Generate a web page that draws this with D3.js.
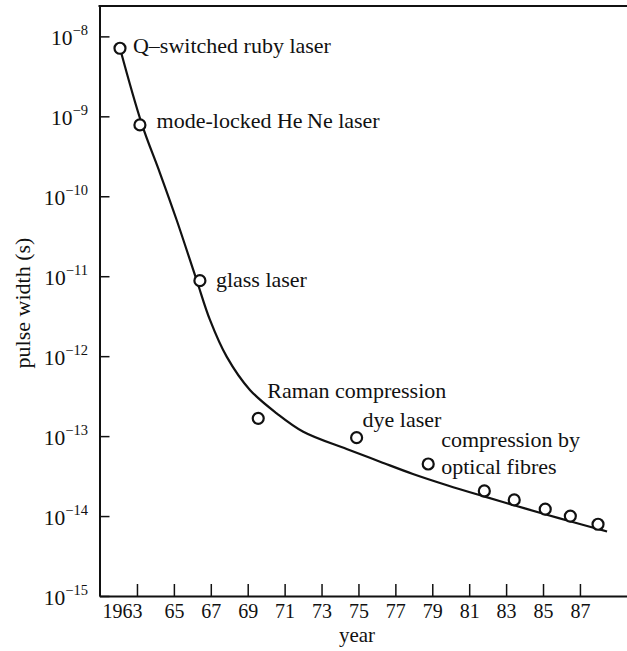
<!DOCTYPE html>
<html>
<head>
<meta charset="utf-8">
<script src="https://cdn.jsdelivr.net/npm/d3@7"></script>
<style>
  body { margin: 0; background: #fff; }
  svg { display: block; }
  svg text { font-family: "Liberation Serif", "Times New Roman", serif; }
</style>
</head>
<body>
<svg width="627" height="651"></svg>
<script>
"use strict";

// data
const pointYears = [1962.08, 1963.16, 1966.41, 1969.57, 1974.9, 1978.78, 1981.82, 1983.44, 1985.12, 1986.48, 1987.98];
const pointWidths = [7.1e-9, 7.8e-10, 8.8e-12, 1.67e-13, 9.55e-14, 4.48e-14, 2.06e-14, 1.59e-14, 1.22e-14, 1.0e-14, 7.9e-15];
const pointLabels = [
  "Q\u2013switched ruby laser",
  "mode-locked He\u2009Ne laser",
  "glass laser",
  "Raman compression",
  "dye laser",
  "compression by|optical fibres",
  "", "", "", "", ""
];

// trend curve
const curveYears = [1962.08, 1963.25, 1964.25, 1965.15, 1966.23, 1966.955, 1967.86, 1969.12, 1970.57, 1972.01,
  1974.36, 1976.17, 1977.95, 1979.80, 1981.80, 1983.43, 1985.11, 1986.46, 1987.98, 1988.47];
const curveWidths = [7.1e-9, 8.18e-10, 1.94e-10, 5.05e-11, 8.97e-12, 2.84e-12, 9.86e-13, 3.78e-13, 1.93e-13, 1.135e-13,
  6.9e-14, 4.79e-14, 3.36e-14, 2.43e-14, 1.76e-14, 1.365e-14, 1.055e-14, 8.61e-15, 6.89e-15, 6.41e-15];

// axes
const xTicks = [1963, 1965, 1967, 1969, 1971, 1973, 1975, 1977, 1979, 1981, 1983, 1985, 1987];
const xTickLabels = ["1963", "65", "67", "69", "71", "73", "75", "77", "79", "81", "83", "85", "87"];
const yExponents = [-8, -9, -10, -11, -12, -13, -14, -15];

const svg = d3.select("svg");
const ink = "#111";
const serif = "Liberation Serif";
const mLeft = 99.5, mRight = 627, mTop = 6, mBottom = 596;

const x = d3.scaleLinear().domain([1960.97, 1989.55]).range([mLeft, mRight]);
const y = d3.scaleLog().domain([1e-15, Math.pow(10, -7.62)]).range([mBottom, mTop]);

// label offsets (px) from each point
const labelOffsets = [[13, 5], [16.7, 3.3], [16, 6], [9, -20], [6, -11], [13, -17], [0, 0], [0, 0], [0, 0], [0, 0], [0, 0]];

// x axis
const xAxis = svg.append("g")
  .attr("transform", `translate(0,${mBottom})`)
  .call(d3.axisBottom(x).tickValues(xTicks).tickSize(-12).tickSizeOuter(0)
    .tickFormat((d, i) => xTickLabels[i]));
xAxis.select(".domain").attr("stroke", ink).attr("stroke-width", 2);
xAxis.selectAll(".tick line").attr("stroke", ink).attr("stroke-width", 1.5);
xAxis.selectAll(".tick text")
  .attr("y", 22).attr("dy", 0)
  .attr("dx", (d, i) => i === 0 ? -15 : 0)
  .attr("font-size", 20).attr("fill", ink)
  .attr("font-family", serif);

// y axis
const yAxis = svg.append("g")
  .attr("transform", `translate(${mLeft},0)`)
  .call(d3.axisLeft(y).tickValues(yExponents.map((e) => Math.pow(10, e))).tickSize(-10).tickSizeOuter(0)
    .tickFormat(""));
yAxis.select(".domain").attr("stroke", ink).attr("stroke-width", 2);
yAxis.selectAll(".tick line").attr("stroke", ink).attr("stroke-width", 1.5);

// 10^n labels with superscripts
const yLab = svg.append("g").selectAll("text")
  .data(yExponents)
  .join("text")
  .attr("x", 88)
  .attr("y", (d) => y(Math.pow(10, d)) + 8.5)
  .attr("text-anchor", "end")
  .attr("fill", ink)
  .attr("font-family", serif)
  .attr("font-size", 21.5);
yLab.append("tspan").text("10");
yLab.append("tspan").attr("dy", -10).attr("font-size", 14.5).text((d) => "\u2212" + Math.abs(d));

// top frame line
svg.append("line")
  .attr("x1", mLeft - 1).attr("x2", mRight)
  .attr("y1", mTop).attr("y2", mTop)
  .attr("stroke", ink).attr("stroke-width", 2);

// axis titles
svg.append("text")
  .attr("x", 357).attr("y", 642)
  .attr("text-anchor", "middle")
  .attr("font-family", serif)
  .attr("font-size", 21).attr("fill", ink)
  .text("year");
svg.append("text")
  .attr("transform", "translate(30,303) rotate(-90)")
  .attr("text-anchor", "middle")
  .attr("font-family", serif)
  .attr("font-size", 22).attr("fill", ink)
  .text("pulse width (s)");

// trend curve
const line = d3.line()
  .x((d, i) => x(curveYears[i]))
  .y((d) => y(d))
  .curve(d3.curveCatmullRom.alpha(0.5));
svg.append("path")
  .datum(curveWidths)
  .attr("d", line)
  .attr("fill", "none")
  .attr("stroke", ink)
  .attr("stroke-width", 2.2);

// data points
const pts = svg.append("g").selectAll("g")
  .data(pointWidths)
  .join("g")
  .attr("transform", (d, i) => `translate(${x(pointYears[i])},${y(d)})`);

pts.append("circle")
  .attr("r", 5.5)
  .attr("fill", "#fff")
  .attr("stroke", ink)
  .attr("stroke-width", 2.2);

const lab = pts.append("text")
  .attr("x", (d, i) => labelOffsets[i][0])
  .attr("y", (d, i) => labelOffsets[i][1])
  .attr("font-family", serif)
  .attr("font-size", 22)
  .attr("fill", ink);
lab.each(function (d, i) {
  const parts = pointLabels[i] ? pointLabels[i].split("|") : [];
  parts.forEach((p, k) => {
    d3.select(this).append("tspan")
      .attr("x", labelOffsets[i][0])
      .attr("dy", k === 0 ? 0 : 27.3)
      .text(p);
  });
});
</script>
</body>
</html>
